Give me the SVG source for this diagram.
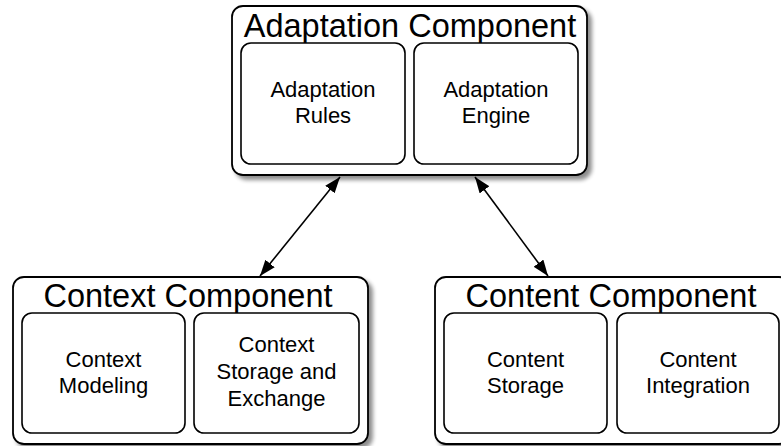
<svg xmlns="http://www.w3.org/2000/svg" width="781" height="446" viewBox="0 0 781 446">
  <style>
    .outer { fill: #ffffff; stroke: #000000; stroke-width: 1.8; }
    .inner { fill: #ffffff; stroke: #000000; stroke-width: 1.6; }
    .title { font-family: "Liberation Sans", Arial, Helvetica, sans-serif; font-size: 32.5px; fill: #000000; text-anchor: middle; }
    .label { font-family: "Liberation Sans", Arial, Helvetica, sans-serif; font-size: 22px; fill: #000000; text-anchor: middle; }
    .link { fill: none; stroke: #000000; stroke-width: 1.6; }
  </style>
  <defs>
    <filter id="shadow" x="-10%" y="-10%" width="130%" height="130%">
      <feGaussianBlur in="SourceAlpha" stdDeviation="2.2"/>
      <feOffset dx="4" dy="4" result="blur"/>
      <feComponentTransfer>
        <feFuncA type="linear" slope="0.45"/>
      </feComponentTransfer>
      <feMerge>
        <feMergeNode/>
        <feMergeNode in="SourceGraphic"/>
      </feMerge>
    </filter>
    <marker id="arrow" viewBox="0 0 16 12" refX="16" refY="6" markerWidth="16" markerHeight="12" markerUnits="userSpaceOnUse" orient="auto-start-reverse">
      <path d="M0,0 L16,6 L0,12 Z" fill="#000000"/>
    </marker>
  </defs>

  <!-- Adaptation component -->
  <g id="adaptation-component">
    <rect class="outer" x="232" y="6" width="355" height="169" rx="11" filter="url(#shadow)"/>
    <text class="title" x="410" y="37">Adaptation Component</text>
    <g id="adaptation-rules">
      <rect class="inner" x="241" y="43" width="164" height="121" rx="10"/>
      <text class="label" x="323" y="97">Adaptation</text>
      <text class="label" x="323" y="123">Rules</text>
    </g>
    <g id="adaptation-engine">
      <rect class="inner" x="414" y="43" width="164" height="121" rx="10"/>
      <text class="label" x="496" y="97">Adaptation</text>
      <text class="label" x="496" y="123">Engine</text>
    </g>
  </g>

  <!-- Context component -->
  <g id="context-component">
    <rect class="outer" x="13" y="277" width="355" height="167" rx="11" filter="url(#shadow)"/>
    <text class="title" x="188" y="307">Context Component</text>
    <g id="context-modeling">
      <rect class="inner" x="22" y="313" width="163" height="120" rx="10"/>
      <text class="label" x="103.5" y="367">Context</text>
      <text class="label" x="103.5" y="393">Modeling</text>
    </g>
    <g id="context-storage">
      <rect class="inner" x="194" y="313" width="165" height="120" rx="10"/>
      <text class="label" x="276.5" y="352">Context</text>
      <text class="label" x="276.5" y="379">Storage and</text>
      <text class="label" x="276.5" y="406">Exchange</text>
    </g>
  </g>

  <!-- Content component -->
  <g id="content-component">
    <rect class="outer" x="435" y="277" width="355" height="167" rx="11" filter="url(#shadow)"/>
    <text class="title" x="611" y="307">Content Component</text>
    <g id="content-storage">
      <rect class="inner" x="444" y="313" width="163" height="120" rx="10"/>
      <text class="label" x="525.5" y="367">Content</text>
      <text class="label" x="525.5" y="393">Storage</text>
    </g>
    <g id="content-integration">
      <rect class="inner" x="617" y="313" width="162" height="120" rx="10"/>
      <text class="label" x="698" y="367">Content</text>
      <text class="label" x="698" y="393">Integration</text>
    </g>
  </g>

  <!-- Connectors -->
  <g id="connectors">
    <line class="link" x1="340" y1="177" x2="260" y2="276" marker-start="url(#arrow)" marker-end="url(#arrow)"/>
    <line class="link" x1="475" y1="177" x2="548" y2="276" marker-start="url(#arrow)" marker-end="url(#arrow)"/>
  </g>
</svg>
